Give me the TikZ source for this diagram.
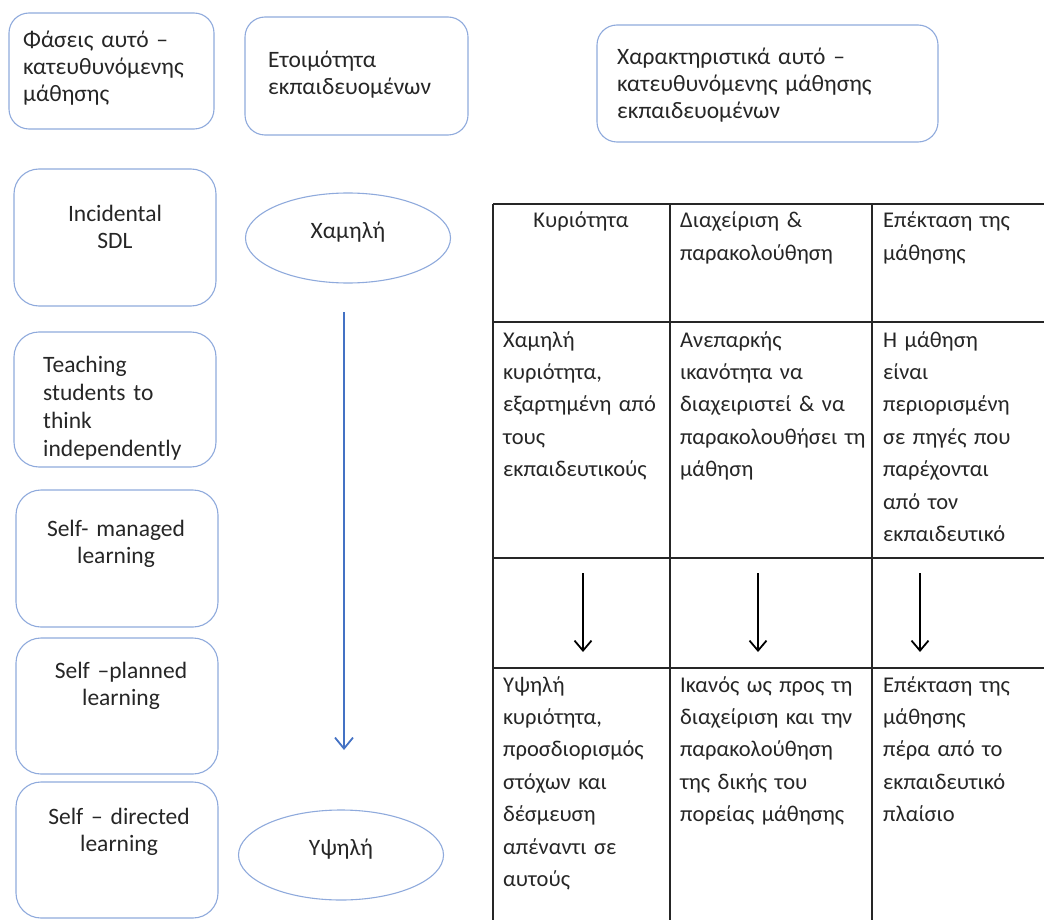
\documentclass[tikz,border=0pt]{standalone}
\usepackage{fontspec}
\setmainfont{Carlito}[WordSpace=0.75]
\usetikzlibrary{shapes.geometric,arrows.meta}
\definecolor{boxblue}{HTML}{8FAADC}
\definecolor{arrowblue}{HTML}{4472C4}
\definecolor{inkgray}{HTML}{262626}
\tikzset{
  phasebox/.style={draw=boxblue, line width=1.1pt, rounded corners=20pt, inner sep=0pt},
  levelbox/.style={ellipse, draw=boxblue, line width=1.1pt, inner sep=0pt,
    minimum width=205pt, minimum height=90pt, text height=10pt, text depth=10pt,
    font=\fontsize{23.5}{27}\selectfont, text=inkgray},
  lefttext/.style={anchor=base west, inner sep=0pt, align=left, text width=#1,
    font=\fontsize{23.5}{27}\selectfont, text=inkgray},
  midtext/.style={anchor=base, inner sep=0pt, align=center, text width=#1,
    font=\fontsize{23.5}{27}\selectfont, text=inkgray},
  celltext/.style={anchor=base west, inner sep=0pt, align=left, text width=#1,
    font=\fontsize{22.5}{32.4}\selectfont, text=inkgray},
  tabline/.style={draw=black!85, line width=1.3pt},
  cellarrow/.style={draw=black, line width=1.8pt, -{Straight Barb[length=10pt,width=17pt,line width=1.8pt]}},
  levelarrow/.style={draw=arrowblue, line width=1.8pt, -{Straight Barb[length=11pt,width=18pt,line width=1.8pt]}},
}
\begin{document}
\begin{tikzpicture}[x=1pt, y=-1pt]
  \useasboundingbox (0,0) rectangle (1044,920);

  \begin{scope}[every node/.style=phasebox]
    \node[minimum width=205pt, minimum height=116pt] (phases) at (111.5,71)  {};
    \node[minimum width=223pt, minimum height=118pt] (ready)  at (356.5,76)  {};
    \node[minimum width=341pt, minimum height=117pt] (traits) at (767.5,83.5) {};
    \node[minimum width=202pt, minimum height=137pt, rounded corners=25pt] (incid)  at (115,237.5) {};
    \node[minimum width=202pt, minimum height=135pt, rounded corners=25pt] (teach)  at (115,399.5) {};
    \node[minimum width=202pt, minimum height=137pt, rounded corners=25pt] (manag)  at (117,558.5) {};
    \node[minimum width=202pt, minimum height=136pt, rounded corners=25pt] (plann)  at (117,706)   {};
    \node[minimum width=202pt, minimum height=136pt, rounded corners=25pt] (direc)  at (117,850)   {};
  \end{scope}

  \node[lefttext=190pt] (phasestxt) at (23,48)  {Φάσεις αυτό –\\κατευθυνόμενης\\μάθησης};
  \node[lefttext=190pt] (readytxt)  at (268,68) {Ετοιμότητα\\εκπαιδευομένων};
  \node[lefttext=315pt] (traitstxt) at (617,65) {Χαρακτηριστικά αυτό –\\κατευθυνόμενης μάθησης\\εκπαιδευομένων};
  \node[midtext=190pt]  (incidtxt)  at (115,222) {Incidental\\SDL};
  \node[lefttext=180pt, font=\fontsize{23.5}{28}\selectfont] (teachtxt) at (43,372)
    {Teaching\\students to\\think\\independently};
  \node[midtext=190pt]  (managtxt)  at (116,536) {Self- managed\\learning};
  \node[midtext=190pt]  (planntxt)  at (121,678) {Self –planned\\learning};
  \node[midtext=190pt]  (directxt)  at (119,824) {Self – directed\\learning};

  \node[levelbox] (low)  at (348,238) {Χαμηλή};
  \node[levelbox] (high) at (341,855) {Υψηλή};

  \coordinate (lvlstart) at (344,312);
  \coordinate (lvlend)   at (344,750);
  \draw[levelarrow] (lvlstart) -- (lvlend);

  % table
  \foreach \y in {204,322,558,668}
    \draw[tabline] (493,\y) -- (1044,\y);
  \foreach \x in {493,670,872}
    \draw[tabline] (\x,204) -- (\x,920);

  \node[midtext=170pt, font=\fontsize{22.5}{32.4}\selectfont] (ownhead) at (581,228) {Κυριότητα};
  \node[celltext=190pt] (manhead) at (680,228) {Διαχείριση \&\\παρακολούθηση};
  \node[celltext=165pt] (exthead) at (883,228) {Επέκταση της\\μάθησης};

  \node[celltext=165pt] (ownlow) at (503,347)
    {Χαμηλή\\κυριότητα,\\εξαρτημένη από\\τους\\εκπαιδευτικούς};
  \node[celltext=195pt] (manlow) at (680,347)
    {Ανεπαρκής\\ικανότητα να\\διαχειριστεί \& να\\παρακολουθήσει τη\\μάθηση};
  \node[celltext=165pt] (extlow) at (883,347)
    {Η μάθηση\\είναι\\περιορισμένη\\σε πηγές που\\παρέχονται\\από τον\\εκπαιδευτικό};

  \coordinate (ownfrom) at (583,573);  \coordinate (ownto) at (583,652);
  \coordinate (manfrom) at (758,573);  \coordinate (manto) at (758,652);
  \coordinate (extfrom) at (920,573);  \coordinate (extto) at (920,652);
  \draw[cellarrow] (ownfrom) -- (ownto);
  \draw[cellarrow] (manfrom) -- (manto);
  \draw[cellarrow] (extfrom) -- (extto);

  \node[celltext=165pt] (ownhigh) at (503,692)
    {Υψηλή\\κυριότητα,\\προσδιορισμός\\στόχων και\\δέσμευση\\απέναντι σε\\αυτούς};
  \node[celltext=195pt] (manhigh) at (680,692)
    {Ικανός ως προς τη\\διαχείριση και την\\παρακολούθηση\\της δικής του\\πορείας μάθησης};
  \node[celltext=165pt] (exthigh) at (883,692)
    {Επέκταση της\\μάθησης\\πέρα από το\\εκπαιδευτικό\\πλαίσιο};
\end{tikzpicture}
\end{document}
